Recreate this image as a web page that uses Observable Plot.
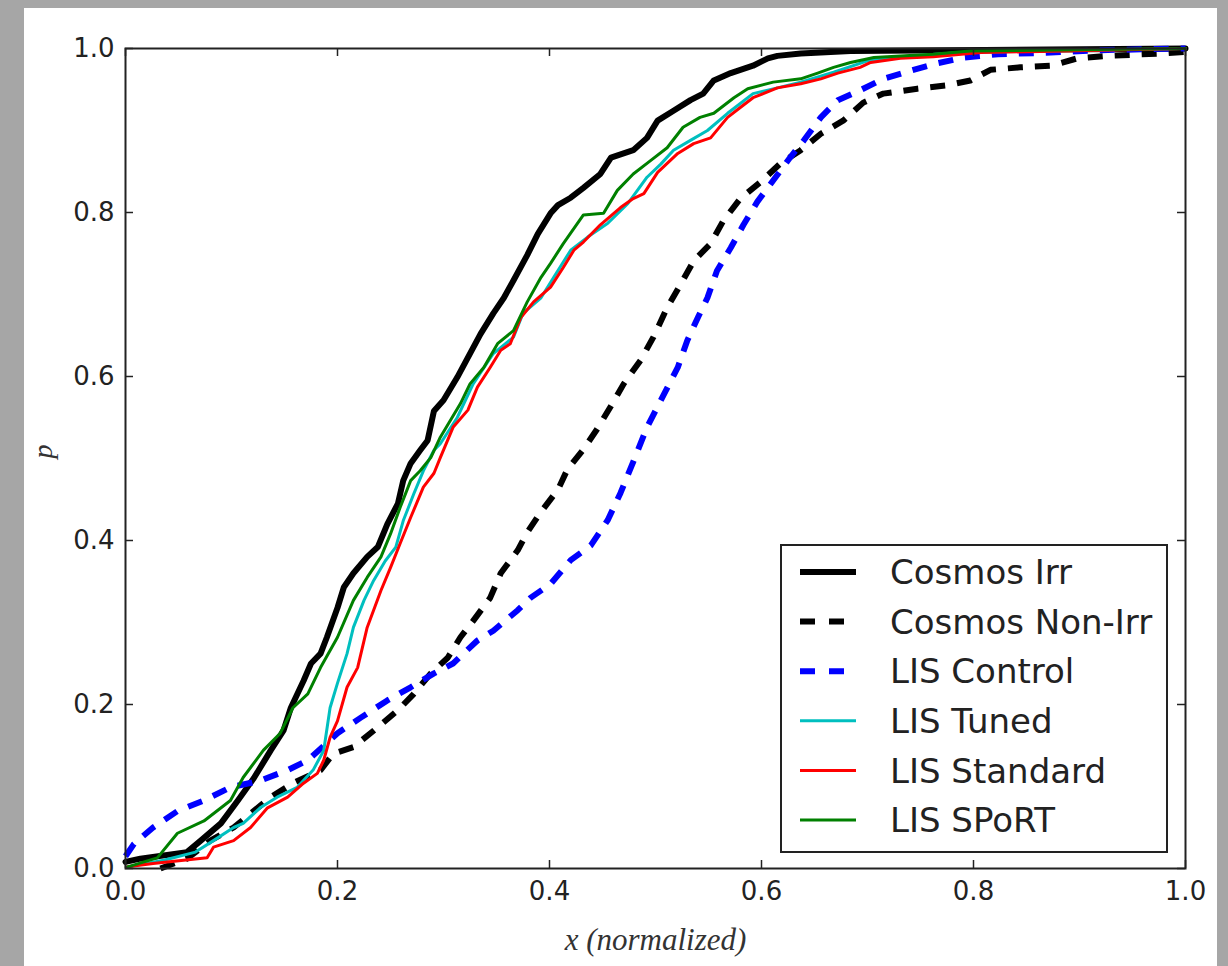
<!DOCTYPE html>
<html>
<head>
<meta charset="utf-8">
<script src="https://cdn.jsdelivr.net/npm/d3@7"></script>
<script src="https://cdn.jsdelivr.net/npm/@observablehq/plot@0.6"></script>
<style>
  html, body { margin: 0; padding: 0; width: 1228px; height: 966px; overflow: hidden; background: #a6a6a6; }
  #wrap { position: absolute; left: 24px; top: 8px; width: 1193px; height: 958px; background: #fff; }
  #legend { position: absolute; left: 756px; top: 536px; }
</style>
</head>
<body>
<div id="wrap"><div id="chart"></div><div id="legend"></div></div>
<script>
// ---- data (x normalized, p) ----
const cosmosIrr = [[0,0.008],[0.014,0.012],[0.058,0.02],[0.071,0.034],[0.090,0.055],[0.106,0.083],[0.121,0.11],[0.137,0.144],[0.149,0.168],[0.156,0.196],[0.168,0.229],[0.175,0.25],[0.184,0.262],[0.190,0.282],[0.200,0.318],[0.206,0.343],[0.215,0.36],[0.228,0.38],[0.238,0.392],[0.247,0.42],[0.257,0.445],[0.262,0.473],[0.269,0.494],[0.278,0.51],[0.285,0.522],[0.291,0.558],[0.300,0.571],[0.313,0.599],[0.325,0.628],[0.335,0.652],[0.347,0.677],[0.357,0.696],[0.366,0.717],[0.379,0.748],[0.389,0.774],[0.401,0.799],[0.408,0.809],[0.420,0.818],[0.432,0.830],[0.448,0.847],[0.458,0.867],[0.479,0.876],[0.492,0.891],[0.502,0.912],[0.517,0.924],[0.533,0.937],[0.545,0.945],[0.555,0.961],[0.571,0.97],[0.592,0.979],[0.606,0.988],[0.615,0.991],[0.637,0.994],[0.684,0.997],[1.0,1.0]];
const cosmosNonIrr = [[0.033,0.0],[0.058,0.012],[0.080,0.034],[0.102,0.05],[0.137,0.087],[0.158,0.104],[0.184,0.12],[0.196,0.14],[0.215,0.148],[0.234,0.168],[0.257,0.193],[0.272,0.213],[0.288,0.238],[0.304,0.257],[0.316,0.282],[0.328,0.302],[0.344,0.33],[0.354,0.36],[0.370,0.388],[0.379,0.41],[0.392,0.435],[0.408,0.462],[0.417,0.487],[0.432,0.511],[0.445,0.536],[0.458,0.564],[0.470,0.591],[0.486,0.62],[0.498,0.648],[0.511,0.684],[0.524,0.713],[0.536,0.741],[0.552,0.762],[0.564,0.79],[0.580,0.817],[0.599,0.837],[0.618,0.86],[0.637,0.876],[0.656,0.896],[0.677,0.912],[0.696,0.934],[0.715,0.945],[0.747,0.951],[0.775,0.955],[0.797,0.961],[0.816,0.974],[0.844,0.977],[0.873,0.979],[0.898,0.988],[0.926,0.991],[0.979,0.994],[1.0,0.996]];
const lisControl = [[0.0,0.015],[0.008,0.03],[0.026,0.05],[0.049,0.07],[0.074,0.083],[0.099,0.099],[0.127,0.107],[0.153,0.12],[0.172,0.132],[0.200,0.165],[0.222,0.184],[0.247,0.205],[0.269,0.221],[0.291,0.238],[0.309,0.25],[0.332,0.278],[0.347,0.29],[0.370,0.315],[0.382,0.33],[0.401,0.347],[0.420,0.376],[0.439,0.394],[0.455,0.425],[0.467,0.458],[0.479,0.496],[0.492,0.538],[0.505,0.571],[0.521,0.611],[0.530,0.644],[0.540,0.672],[0.549,0.696],[0.558,0.729],[0.571,0.757],[0.583,0.785],[0.596,0.813],[0.611,0.839],[0.627,0.867],[0.640,0.888],[0.656,0.916],[0.672,0.937],[0.693,0.949],[0.715,0.963],[0.741,0.973],[0.766,0.982],[0.791,0.989],[0.823,0.993],[0.873,0.995],[0.920,0.998],[1.0,1.0]];
const lisTuned = [[0.002,0.002],[0.036,0.01],[0.066,0.02],[0.083,0.034],[0.102,0.05],[0.111,0.055],[0.127,0.074],[0.143,0.087],[0.162,0.099],[0.177,0.12],[0.187,0.144],[0.193,0.196],[0.200,0.226],[0.209,0.262],[0.215,0.294],[0.225,0.327],[0.234,0.351],[0.245,0.375],[0.255,0.392],[0.262,0.424],[0.272,0.457],[0.281,0.485],[0.291,0.51],[0.297,0.518],[0.313,0.55],[0.328,0.591],[0.347,0.628],[0.366,0.648],[0.375,0.677],[0.392,0.696],[0.404,0.721],[0.420,0.754],[0.436,0.77],[0.455,0.787],[0.474,0.811],[0.492,0.843],[0.505,0.859],[0.517,0.876],[0.533,0.888],[0.549,0.9],[0.568,0.921],[0.580,0.933],[0.592,0.945],[0.615,0.952],[0.637,0.959],[0.668,0.971],[0.700,0.985],[0.731,0.99],[0.788,0.995],[1.0,1.0]];
const lisStandard = [[0.002,0.002],[0.026,0.006],[0.077,0.013],[0.083,0.026],[0.102,0.034],[0.118,0.05],[0.134,0.074],[0.153,0.087],[0.168,0.104],[0.181,0.116],[0.187,0.132],[0.193,0.16],[0.200,0.18],[0.209,0.221],[0.219,0.245],[0.228,0.294],[0.241,0.339],[0.250,0.367],[0.259,0.396],[0.269,0.428],[0.281,0.465],[0.291,0.482],[0.297,0.501],[0.309,0.538],[0.323,0.559],[0.332,0.587],[0.344,0.611],[0.354,0.632],[0.363,0.64],[0.373,0.672],[0.385,0.691],[0.394,0.701],[0.401,0.709],[0.413,0.733],[0.423,0.754],[0.432,0.764],[0.448,0.785],[0.467,0.806],[0.479,0.817],[0.489,0.823],[0.502,0.849],[0.521,0.872],[0.536,0.884],[0.552,0.891],[0.568,0.916],[0.580,0.928],[0.592,0.94],[0.615,0.952],[0.637,0.957],[0.656,0.963],[0.672,0.97],[0.693,0.977],[0.703,0.983],[0.731,0.988],[0.762,0.99],[0.807,0.995],[1.0,1.0]];
const lisSport = [[0.002,0.002],[0.030,0.013],[0.049,0.043],[0.074,0.058],[0.099,0.083],[0.111,0.111],[0.130,0.144],[0.146,0.165],[0.158,0.196],[0.172,0.213],[0.184,0.245],[0.200,0.282],[0.215,0.327],[0.228,0.355],[0.241,0.38],[0.250,0.408],[0.259,0.44],[0.269,0.473],[0.278,0.485],[0.288,0.501],[0.297,0.526],[0.316,0.567],[0.325,0.591],[0.338,0.611],[0.351,0.64],[0.366,0.656],[0.379,0.691],[0.392,0.721],[0.401,0.738],[0.413,0.762],[0.432,0.797],[0.451,0.799],[0.464,0.827],[0.479,0.847],[0.495,0.863],[0.511,0.879],[0.526,0.904],[0.542,0.916],[0.555,0.921],[0.574,0.94],[0.587,0.951],[0.611,0.959],[0.637,0.963],[0.653,0.97],[0.668,0.977],[0.684,0.983],[0.706,0.989],[0.731,0.991],[0.762,0.993],[0.797,0.997],[1.0,1.0]];

const seriesNames = ["Cosmos Irr", "Cosmos Non-Irr", "LIS Control", "LIS Tuned", "LIS Standard", "LIS SPoRT"];
const seriesData = [cosmosIrr, cosmosNonIrr, lisControl, lisTuned, lisStandard, lisSport];
const tickValues = [0, 0.2, 0.4, 0.6, 0.8, 1.0];
const xLabel = "x (normalized)";
const yLabel = "p";

// ---- styles ----
const styles = [
  {stroke: "#000000", width: 6, dash: null},
  {stroke: "#000000", width: 6, dash: "15,12"},
  {stroke: "#0000ff", width: 6, dash: "15,12"},
  {stroke: "#00bfbf", width: 3, dash: null},
  {stroke: "#ff0000", width: 3, dash: null},
  {stroke: "#008000", width: 3, dash: null}
];

const W = 1193, H = 958, mL = 101, mT = 40, mR = 32, mB = 98;
const innerW = W - mL - mR, innerH = H - mT - mB;
const tickLen = 8;
const axisColor = "#222";

const lineMarks = seriesData.map((data, i) => Plot.line(data, {
  x: d => d[0], y: d => d[1],
  stroke: styles[i].stroke, strokeWidth: styles[i].width,
  strokeDasharray: styles[i].dash, strokeLinejoin: "round",
  strokeLinecap: styles[i].dash ? "butt" : "round"
}));

const chart = Plot.plot({
  width: W, height: H,
  marginLeft: mL, marginTop: mT, marginRight: mR, marginBottom: mB,
  style: {background: "white", fontFamily: "DejaVu Sans", color: axisColor},
  x: {domain: [0, 1], label: null},
  y: {domain: [0, 1], label: null},
  marks: [
    ...lineMarks,
    Plot.ruleX(tickValues, {x: d => d, insetTop: innerH - tickLen, stroke: axisColor, strokeWidth: 1.5}),
    Plot.ruleX(tickValues, {x: d => d, insetBottom: innerH - tickLen, stroke: axisColor, strokeWidth: 1.5}),
    Plot.ruleY(tickValues, {y: d => d, insetRight: innerW - tickLen, stroke: axisColor, strokeWidth: 1.5}),
    Plot.ruleY(tickValues, {y: d => d, insetLeft: innerW - tickLen, stroke: axisColor, strokeWidth: 1.5}),
    Plot.frame({stroke: axisColor, strokeWidth: 2}),
    Plot.axisX(tickValues, {tickSize: 0, tickPadding: 13, tickFormat: d3.format(".1f"), fontSize: 26, label: null, fill: axisColor}),
    Plot.axisY(tickValues, {tickSize: 0, tickPadding: 11, tickFormat: d3.format(".1f"), fontSize: 26, label: null, fill: axisColor}),
    Plot.text([xLabel], {text: d => d, frameAnchor: "bottom", dy: 72, lineAnchor: "middle", fontSize: 31, fontStyle: "italic", fontFamily: "Liberation Serif", fill: "#333"}),
    Plot.text([yLabel], {text: d => d, frameAnchor: "left", dx: -82, rotate: -90, lineAnchor: "middle", fontSize: 28, fontStyle: "italic", fontFamily: "Liberation Serif", fill: "#333"})
  ]
});
document.getElementById("chart").appendChild(chart);

// ---- legend (inside the axes, lower right) ----
const lgW = 388, lgH = 309, rowGap = 49.6, row0 = 28;
const lg = d3.select("#legend").append("svg").attr("width", lgW).attr("height", lgH);
lg.append("rect").attr("x", 1).attr("y", 1).attr("width", lgW - 2).attr("height", lgH - 2)
  .attr("fill", "white").attr("stroke", axisColor).attr("stroke-width", 2);
seriesNames.forEach((name, i) => {
  const cy = row0 + i * rowGap;
  lg.append("line").attr("x1", 20).attr("x2", 76).attr("y1", cy).attr("y2", cy)
    .attr("stroke", styles[i].stroke).attr("stroke-width", styles[i].width)
    .attr("stroke-dasharray", styles[i].dash ? "15,14" : null);
  lg.append("text").attr("x", 110).attr("y", cy).attr("dy", "0.36em")
    .attr("font-family", "DejaVu Sans").attr("font-size", 34).attr("fill", axisColor)
    .text(name);
});
</script>
</body>
</html>
